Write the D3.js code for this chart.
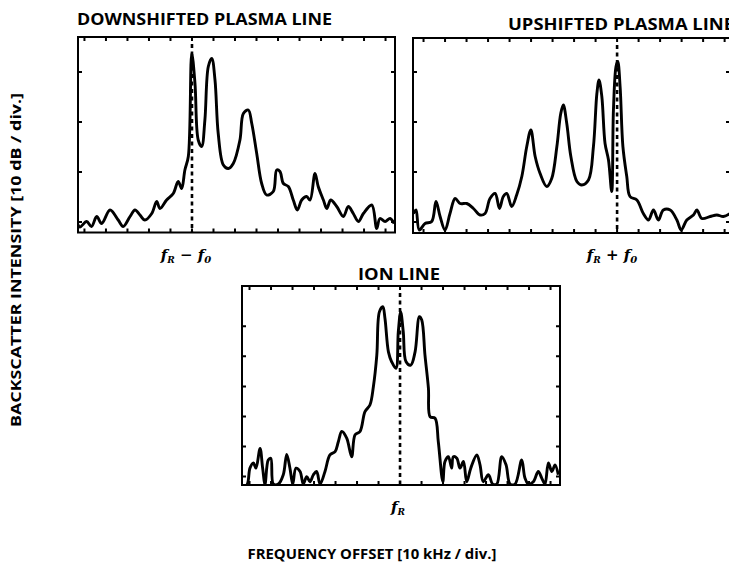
<!DOCTYPE html>
<meta charset="utf-8">
<title>Plasma and ion line spectra</title>
<style>

body {
  margin: 0px;
  background: #fff;
}

svg {
  display: block;
  font-family: "Open Sans", sans-serif;
}

.frame {
  fill: none;
  stroke: #000;
  stroke-width: 2px;
}

.tick {
  stroke: #000;
  stroke-width: 2px;
}

.spectrum {
  fill: none;
  stroke: #000;
  stroke-width: 2.9px;
  stroke-linejoin: round;
}

.marker {
  stroke: #000;
  stroke-width: 2.6px;
  stroke-dasharray: 4 3.5;
}

.title {
  font-weight: 700;
  font-size: 16px;
}

.flabel {
  font-family: "DejaVu Serif", serif;
  font-style: italic;
  font-weight: 700;
  font-size: 15px;
}

</style>
<body>
<script src="https://d3js.org/d3.v7.min.js"></script>
<script>

var width = 729, height = 570;

// Downshifted plasma line: offset from fR - f0 (kHz) and level (dB)
var downFreq = [-53.5, -52.1, -49.0, -46.7, -44.3, -42.0, -38.1, -34.3, -32.0, -28.8, -26.5, -24.2,
  -21.9, -18.7, -16.4, -14.9, -11.8, -8.7, -6.4, -4.8, -3.3, -1.7, -0.1, 1.4, 2.9, 4.5, 6.0, 7.6,
  9.2, 10.7, 12.2, 14.6, 16.9, 19.2, 22.3, 23.9, 26.2, 27.8, 30.1, 32.4, 34.7, 37.8, 39.4, 40.9,
  42.5, 44.8, 47.1, 49.0, 51.0, 53.3, 54.9, 57.2, 58.7, 61.1, 62.7, 64.5, 67.3, 70.4, 72.7, 75.0,
  77.4, 79.7, 83.6, 85.9, 87.4, 89.8, 92.1, 94.0];
var downLevel = [0, -1, 0.1, -0.9, 1.1, -0.3, 2.4, 0.4, -0.9, 1.1, 2.4, 1.4,
  0.4, 1.7, 4.1, 2.7, 4.4, 5.7, 8.1, 6.7, 10.4, 13.1, 33.7, 27.7, 16.4, 15.1, 20.4, 31.1,
  32.7, 28.4, 17.7, 11.4, 10.7, 11.7, 16.4, 21.7, 22.4, 19.7, 13.7, 7.7, 5.4, 6.1, 10.4, 10.1,
  7.7, 7.1, 4.4, 2.4, 4.4, 5.1, 4.4, 9.7, 7.1, 4.4, 2.7, 4.4, 3.1, 1.1, 3.1, 1.7,
  0.1, 1.7, 3.4, -1.3, 0.7, 0.1, 0.7, -0.3];

// Upshifted plasma line: offset from fR + f0 (kHz) and level (dB)
var upFreq = [-94.7, -93.5, -92.0, -89.3, -86.2, -84.2, -82.3, -80.0, -77.7, -75.3, -73.0, -69.9,
  -66.8, -63.7, -61.4, -59.1, -56.7, -54.7, -52.9, -51.3, -49.0, -46.7, -44.3, -42.0, -40.1, -38.1,
  -35.8, -32.7, -30.4, -28.0, -26.2, -25.0, -23.4, -21.5, -18.7, -16.4, -13.3, -11.0, -9.4, -8.4,
  -7.1, -5.6, -4.0, -2.5, -1.7, -0.5, 0.3, 1.4, 2.7, 4.5, 6.0, 9.2, 12.2, 14.6, 16.9, 19.2, 21.5,
  24.7, 27.8, 29.8, 32.4, 35.5, 37.1, 39.4, 43.3, 46.4, 49.4, 52.5];
var upLevel = [1.7, 2.4, -1.6, -0.3, 0.1, 4.1, 1.1, -1.6, 1.7, 4.7, 3.7, 3.7,
  2.7, 1.4, 1.7, 4.7, 5.7, 2.7, 5.1, 5.7, 3.1, 5.4, 9.1, 15.1, 18.4, 13.1,
  9.7, 7.1, 8.7, 15.1, 21.7, 23.4, 19.7, 13.1, 8.1, 7.4, 8.4, 15.1, 25.7, 28.4,
  25.1, 15.7, 12.4, 6.1, 22.4, 31.1, 32.1, 27.1, 15.1, 9.1, 5.1, 4.4, 1.7, 0.4, 2.4, 0.4, 2.4,
  2.4, 0.4, -1.6, 0.4, 1.4, 2.4, 0.7, 1.1, 1.4, 1.1, 1.7];

// Ion line: offset from fR (kHz) and level (scale units)
var ionFreq = [-74.1, -71.3, -69.8, -68.2, -67.0, -65.1, -63.9, -62.8, -61.3, -60.1, -58.9, -56.6,
  -54.3, -52.7, -51.2, -49.9, -48.4, -46.5, -45.0, -43.4, -41.9, -40.3, -38.8, -37.2, -34.9, -32.6,
  -30.2, -28.7, -27.1, -24.8, -22.5, -20.9, -18.6, -16.3, -14.0, -12.4, -10.8, -9.6, -8.0, -7.0,
  -5.4, -3.9, -1.9, -0.8, 0.3, 1.5, 2.8, 5.0, 7.0, 9.0, 10.1, 11.6, 13.2, 14.0, 16.3, 17.8, 19.9,
  20.9, 22.5, 24.0, 24.8, 26.4, 27.9, 29.5, 31.0, 32.9, 35.7, 37.2, 38.7, 41.1, 43.1, 45.0, 47.3,
  49.3, 51.2, 53.5, 56.6, 58.1, 59.7, 62.0, 64.3, 65.9, 67.4, 69.0, 70.6, 72.1, 73.6];
var ionLevel = [-2.8, -2.8, 2.8, 4.5, 2.8, 9.4, 2.8, -2.5, 5.5, 6.1, -2.5, -2.5,
  0.6, 7.4, 2.8, -2.5, 2.8, 1.7, -2.5, 0, -1.7, 0.6, 1.7, -2.5, 1.7, 7.2,
  8.3, 11.6, 15.0, 12.8, 6.6, 13.9, 15.0, 21.6, 23.8, 29.9, 40.4, 54.8, 56.5, 52.6,
  41.5, 38.2, 36.0, 48.2, 54.8, 48.2, 38.2, 37.1, 41.5, 53.2, 52.1, 40.4, 29.4, 19.9, 19.4, 11.6, -1.7,
  5.0, 6.6, 2.8, 6.6, 6.1, 2.8, 5.0, -1.7, 2.8, 7.2, 3.9, -1.7, 0.6, -2.5, -2.5, 6.6,
  3.9, -2.5, -2.5, 5.5, -0.5, -2.5, -1.7, 1.7, -0.5, -2.5, 4.5, 1.7, 3.9, 0.6];

// Tick values (10 kHz / div, 10 units / div)
var downTicksX = [-50, -40, -30, -20, -10, 0, 10, 20, 30, 40, 50, 60, 70, 80, 90];
var upTicksX = [-90, -80, -70, -60, -50, -40, -30, -20, -10, 0, 10, 20, 30, 40, 50];
var ionTicksX = [-70, -60, -50, -40, -30, -20, -10, 0, 10, 20, 30, 40, 50, 60, 70];
var plasmaTicksY = [0, 10, 20, 30];
var ionTicksY = [0, 10, 20, 30, 40, 50];

var svg = d3.select("body").append("svg")
    .attr("width", width)
    .attr("height", height);

var panels = [
  { id: "down", title: "DOWNSHIFTED PLASMA LINE", freq: downFreq, level: downLevel,
    box: [78, 37, 395, 232.5], xDomain: [-53, 94.4], yDomain: [-2.1, 37],
    ticksX: downTicksX, ticksY: plasmaTicksY, label: ["R", " \u2212 ", "0"],
    titlePos: [77, 25, 255, "start"], labelPos: [186, 260] },
  { id: "up", title: "UPSHIFTED PLASMA LINE", freq: upFreq, level: upLevel,
    box: [413, 38, 730, 233], xDomain: [-94.9, 52.5], yDomain: [-2.2, 36.8],
    ticksX: upTicksX, ticksY: plasmaTicksY, label: ["R", " + ", "0"],
    titlePos: [508, 30, 226, "start"], labelPos: [612, 260] },
  { id: "ion", title: "ION LINE", freq: ionFreq, level: ionLevel,
    box: [242, 286, 560, 485], xDomain: [-73.5, 74.4], yDomain: [-2.8, 63.4],
    ticksX: ionTicksX, ticksY: ionTicksY, label: ["R"],
    titlePos: [399, 280, 82, "middle"], labelPos: [398, 512] }
];

panels.forEach(drawPanel);

function drawPanel(p) {
  var x = d3.scaleLinear().domain(p.xDomain).range([p.box[0], p.box[2]]);
  var y = d3.scaleLinear().domain(p.yDomain).range([p.box[3], p.box[1]]);
  var g = svg.append("g");

  g.append("clipPath")
      .attr("id", "clip-" + p.id)
    .append("rect")
      .attr("x", p.box[0])
      .attr("y", p.box[1])
      .attr("width", p.box[2] - p.box[0])
      .attr("height", p.box[3] - p.box[1]);

  // inward ticks on all four sides
  var tl = 4;
  g.selectAll(".tx")
      .data(p.ticksX)
    .enter().append("path")
      .attr("class", "tick")
      .attr("d", function(d) {
        return "M" + x(d) + "," + p.box[1] + "v" + tl + "M" + x(d) + "," + p.box[3] + "v" + (-tl);
      });
  g.selectAll(".ty")
      .data(p.ticksY)
    .enter().append("path")
      .attr("class", "tick")
      .attr("d", function(d) {
        return "M" + p.box[0] + "," + y(d) + "h" + tl + "M" + p.box[2] + "," + y(d) + "h" + (-tl);
      });

  // dashed marker at the nominal frequency
  g.append("line")
      .attr("class", "marker")
      .attr("x1", x(0)).attr("x2", x(0))
      .attr("y1", p.box[1] + 7).attr("y2", p.box[3]);

  var line = d3.line()
      .curve(d3.curveCatmullRom.alpha(0.5))
      .x(function(d, i) { return x(p.freq[i]); })
      .y(function(d, i) { return y(p.level[i]); });

  g.append("path")
      .datum(p.freq)
      .attr("class", "spectrum")
      .attr("clip-path", "url(#clip-" + p.id + ")")
      .attr("d", line);

  g.append("rect")
      .attr("class", "frame")
      .attr("x", p.box[0])
      .attr("y", p.box[1])
      .attr("width", p.box[2] - p.box[0])
      .attr("height", p.box[3] - p.box[1]);

  g.append("text")
      .attr("class", "title")
      .attr("x", p.titlePos[0])
      .attr("y", p.titlePos[1])
      .attr("text-anchor", p.titlePos[3])
      .attr("textLength", p.titlePos[2])
      .attr("lengthAdjust", "spacingAndGlyphs")
      .text(p.title);

  // f_R - f_0 style label under the marker
  var t = g.append("text")
      .attr("class", "flabel")
      .attr("x", p.labelPos[0])
      .attr("y", p.labelPos[1])
      .attr("text-anchor", "middle");
  t.append("tspan").text("f");
  t.append("tspan").attr("dy", 3).style("font-size", "9px").text(p.label[0]);
  if (p.label.length > 1) {
    t.append("tspan").attr("dy", -3).style("font-style", "normal").text(p.label[1]);
    t.append("tspan").text("f");
    t.append("tspan").attr("dy", 3).style("font-size", "10px").text(p.label[2]);
  }
}

// axis titles
svg.append("text")
    .attr("class", "title")
    .attr("transform", "translate(21,260) rotate(-90)")
    .attr("text-anchor", "middle")
    .attr("textLength", 334)
    .attr("lengthAdjust", "spacingAndGlyphs")
    .style("font-size", "14px")
    .text("BACKSCATTER INTENSITY [10 dB / div.]");

svg.append("text")
    .attr("class", "title")
    .attr("x", 372)
    .attr("y", 559)
    .attr("text-anchor", "middle")
    .attr("textLength", 249)
    .attr("lengthAdjust", "spacingAndGlyphs")
    .style("font-size", "14px")
    .text("FREQUENCY OFFSET [10 kHz / div.]");

</script>
